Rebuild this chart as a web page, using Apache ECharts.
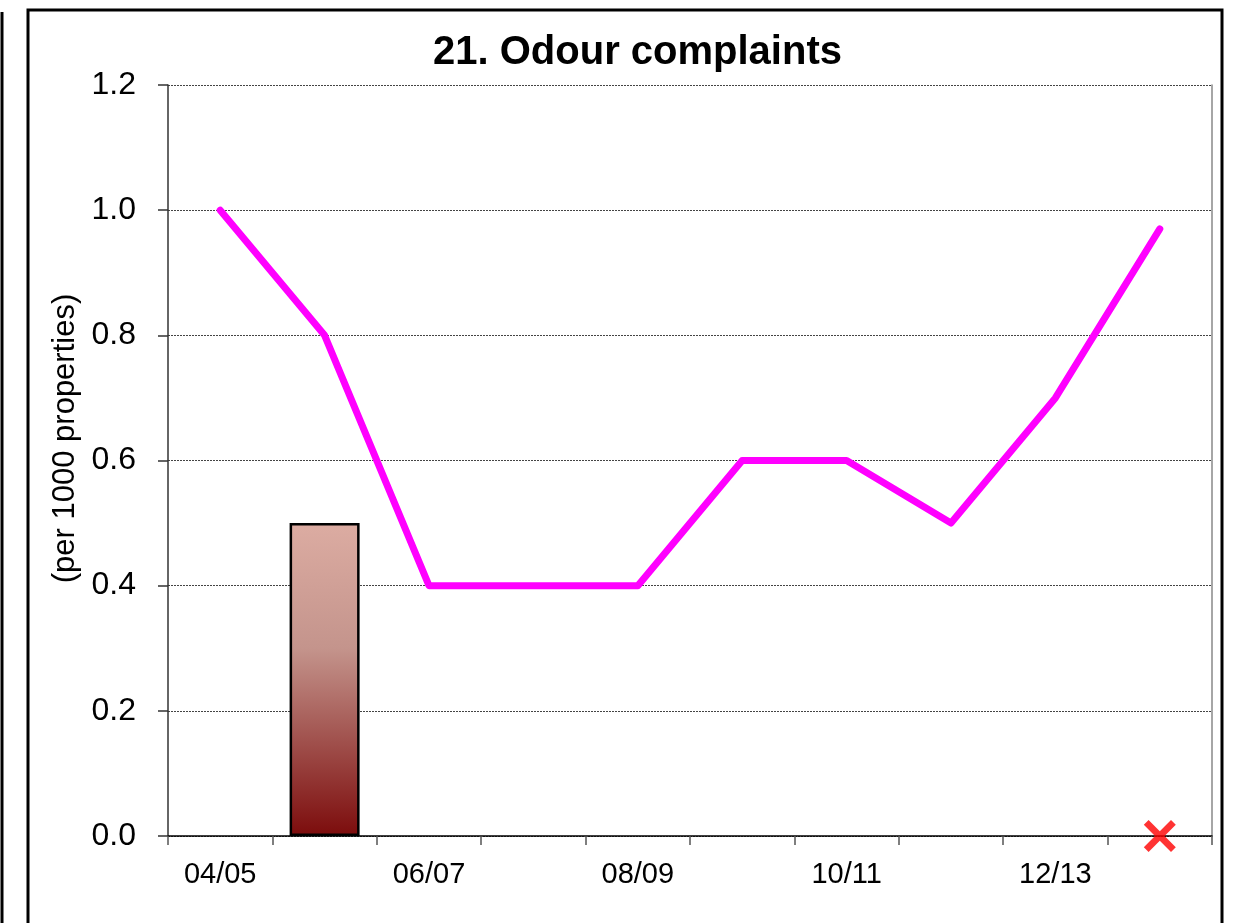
<!DOCTYPE html>
<html>
<head>
<meta charset="utf-8">
<script src="https://cdn.jsdelivr.net/npm/echarts@6/dist/echarts.min.js"></script>
<style>
  html, body {margin: 0; padding: 0; background: #fff;}
  #chart {width: 1245px; height: 923px;}
</style>
</head>
<body>
<div id="chart"></div>
<script>
// data
const years = ['04/05', '05/06', '06/07', '07/08', '08/09', '09/10', '10/11', '11/12', '12/13', '13/14']
const complaints = [1.0, 0.8, 0.4, 0.4, 0.4, 0.6, 0.6, 0.5, 0.7, 0.97]
const barValues = [null, 0.5, null, null, null, null, null, null, null, null]
const crossValues = [null, null, null, null, null, null, null, null, null, 0]

const narrow = '"Liberation Sans Narrow", "Arial Narrow", "Liberation Sans", Arial, sans-serif'
const crossPath = 'path://M0,3 L3,0 L10,7 L17,0 L20,3 L13,10 L20,17 L17,20 L10,13 L3,20 L0,17 L7,10 Z'

const chart = echarts.init(document.getElementById('chart'))

chart.setOption({
  animation: false,
  title: {
    text: '21. Odour complaints',
    left: 428,
    top: 28,
    textStyle: {fontFamily: '"Liberation Sans", Arial, sans-serif', fontWeight: 'bold', fontSize: 40, color: '#000'}
  },
  grid: {left: 168, right: 33, top: 85, bottom: 87, show: false},
  xAxis: {
    type: 'category',
    data: years,
    boundaryGap: true,
    axisLine: {lineStyle: {color: '#000', width: 1.5}},
    axisTick: {show: true, interval: 0, length: 9, lineStyle: {color: '#555', width: 1.5}},
    axisLabel: {interval: 1, color: '#000', fontFamily: narrow, fontSize: 29, margin: 24}
  },
  yAxis: [{
    type: 'value',
    min: 0,
    max: 1.2,
    interval: 0.2,
    name: '(per 1000 properties)',
    nameLocation: 'middle',
    nameGap: 87,
    nameMoveOverlap: false,
    nameTextStyle: {fontFamily: narrow, fontSize: 31, color: '#000', padding: [0, 0, 0, 44]},
    axisLine: {show: true, lineStyle: {color: '#333', width: 1.5}},
    axisTick: {show: true, length: 10, lineStyle: {color: '#333', width: 1.5}},
    axisLabel: {color: '#000', fontFamily: narrow, fontSize: 32, margin: 32, formatter: v => v.toFixed(1)},
    splitLine: {show: true, lineStyle: {color: '#444', width: 1, type: [2, 1]}}
  }, {
    type: 'value',
    min: 0,
    max: 1.2,
    interval: 0.2,
    position: 'right',
    axisLine: {show: true, lineStyle: {color: '#888', width: 1.5}},
    axisTick: {show: false},
    axisLabel: {show: false},
    splitLine: {show: false}
  }],
  series: [
    {
      type: 'bar',
      data: barValues,
      barWidth: 70,
      itemStyle: {
        borderColor: '#000',
        borderWidth: 2.5,
        color: new echarts.graphic.LinearGradient(0, 0, 0, 1, [
          {offset: 0, color: '#dcaca2'},
          {offset: 0.4, color: '#c4948c'},
          {offset: 1, color: '#7c0c0c'}
        ])
      },
      z: 2
    },
    {
      type: 'line',
      data: complaints,
      showSymbol: false,
      lineStyle: {color: '#ff00ff', width: 7, cap: 'round', join: 'round'},
      z: 3
    },
    {
      type: 'scatter',
      data: crossValues,
      symbol: crossPath,
      symbolSize: 32,
      itemStyle: {color: '#ff0000'},
      z: 4
    }
  ],
  graphic: [
    {type: 'rect', shape: {x: 28, y: 10, width: 1194, height: 940}, style: {fill: null, stroke: '#000', lineWidth: 3}, silent: true},
    {type: 'line', shape: {x1: 2, y1: 12, x2: 2, y2: 923}, style: {stroke: '#000', lineWidth: 3}, silent: true}
  ]
})
</script>
</body>
</html>
